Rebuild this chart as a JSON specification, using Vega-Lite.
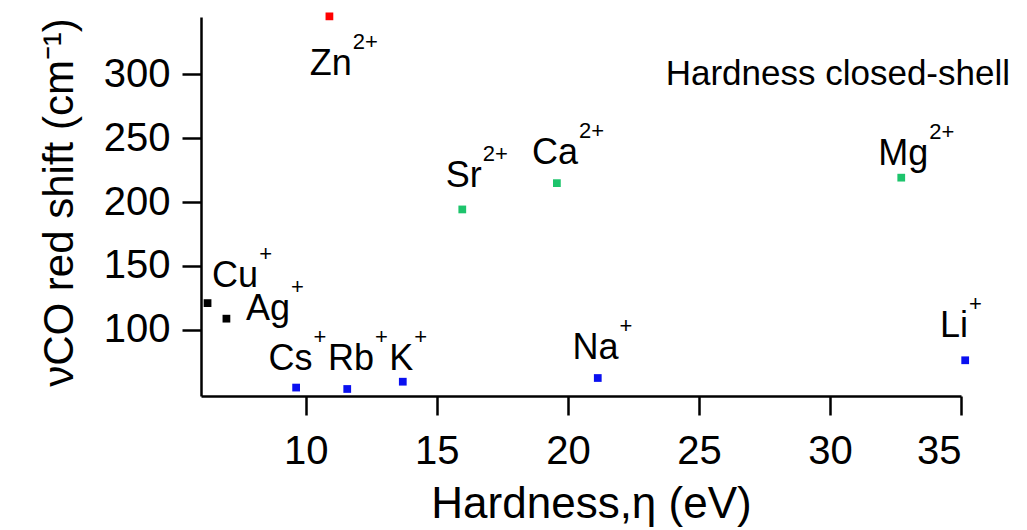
{
  "$schema": "https://vega.github.io/schema/vega-lite/v6.json",
  "width": 760,
  "height": 379,
  "autosize": {"type": "none"},
  "padding": {"left": 201, "top": 17, "right": 66, "bottom": 134},
  "background": "white",
  "config": {
    "view": {"stroke": null},
    "font": "Liberation Sans",
    "axis": {
      "grid": false,
      "domainColor": "black",
      "domainWidth": 2.5,
      "tickColor": "black",
      "tickWidth": 2.5,
      "tickSize": 19,
      "labelFont": "Liberation Sans",
      "labelFontSize": 40,
      "labelColor": "black",
      "titleFont": "Liberation Sans",
      "titleFontWeight": "normal",
      "titleColor": "black"
    },
    "axisX": {"labelPadding": 16, "titleFontSize": 44, "titleX": 390, "titleY": 121, "titleBaseline": "alphabetic", "titleAlign": "center"},
    "axisY": {"labelPadding": 12, "titleFontSize": 42, "titleX": -129, "titleY": 185, "titleAngle": 270, "titleBaseline": "alphabetic", "titleAlign": "center"}
  },
  "data": {
    "values": [
      {"ion": "Zn", "charge": "2+", "group": "Zn", "hardness": 10.9, "shift": 345.5, "lx": 11.75, "ly": 299.2},
      {"ion": "Sr", "charge": "2+", "group": "alkaline-earth", "hardness": 15.97, "shift": 194.2, "lx": 16.71, "ly": 211.7},
      {"ion": "Ca", "charge": "2+", "group": "alkaline-earth", "hardness": 19.58, "shift": 214.8, "lx": 20.39, "ly": 230.0},
      {"ion": "Mg", "charge": "2+", "group": "alkaline-earth", "hardness": 32.72, "shift": 219.1, "lx": 33.75, "ly": 228.7},
      {"ion": "Cu", "charge": "+", "group": "coinage", "hardness": 6.25, "shift": 120.8, "lx": 8.18, "ly": 133.1},
      {"ion": "Ag", "charge": "+", "group": "coinage", "hardness": 6.97, "shift": 108.6, "lx": 9.4, "ly": 107.3},
      {"ion": "Cs", "charge": "+", "group": "alkali", "hardness": 9.63, "shift": 54.6, "lx": 10.25, "ly": 68.1},
      {"ion": "Rb", "charge": "+", "group": "alkali", "hardness": 11.58, "shift": 53.5, "lx": 12.6, "ly": 68.1},
      {"ion": "K", "charge": "+", "group": "alkali", "hardness": 13.7, "shift": 59.2, "lx": 14.1, "ly": 68.1},
      {"ion": "Na", "charge": "+", "group": "alkali", "hardness": 21.14, "shift": 62.1, "lx": 21.93, "ly": 76.7},
      {"ion": "Li", "charge": "+", "group": "alkali", "hardness": 35.16, "shift": 76.0, "lx": 35.27, "ly": 94.2}
    ]
  },
  "layer": [
    {
      "mark": {"type": "point", "shape": "square", "filled": true, "opacity": 1, "size": 60, "clip": false},
      "encoding": {
        "x": {"field": "hardness", "type": "quantitative", "scale": {"domain": [6, 35], "nice": false, "zero": false}, "axis": {"values": [10, 15, 20, 25, 30, 35]}, "title": "Hardness,η (eV)"},
        "y": {"field": "shift", "type": "quantitative", "scale": {"domain": [48, 345], "nice": false, "zero": false}, "axis": {"values": [100, 150, 200, 250, 300]}, "title": "νCO red shift (cm⁻¹)"},
        "color": {"field": "group", "type": "nominal", "scale": {"domain": ["Zn", "alkaline-earth", "coinage", "alkali"], "range": ["#ff0000", "#1dc46c", "#000000", "#0a10f0"]}, "legend": null}
      }
    },
    {
      "mark": {"type": "text", "align": "right", "baseline": "alphabetic", "fontSize": 36, "color": "black", "clip": false},
      "encoding": {
        "x": {"field": "lx", "type": "quantitative", "title": "Hardness,η (eV)"},
        "y": {"field": "ly", "type": "quantitative", "title": "νCO red shift (cm⁻¹)"},
        "text": {"field": "ion"}
      }
    },
    {
      "mark": {"type": "text", "align": "left", "baseline": "alphabetic", "fontSize": 22, "dx": 1, "dy": -26, "color": "black", "clip": false},
      "encoding": {
        "x": {"field": "lx", "type": "quantitative", "title": "Hardness,η (eV)"},
        "y": {"field": "ly", "type": "quantitative", "title": "νCO red shift (cm⁻¹)"},
        "text": {"field": "charge"}
      }
    },
    {
      "data": {"values": [{"note": "Hardness closed-shell", "nx": 30.3, "ny": 291.4}]},
      "mark": {"type": "text", "align": "center", "baseline": "alphabetic", "fontSize": 35, "color": "black", "clip": false},
      "encoding": {
        "x": {"field": "nx", "type": "quantitative", "title": "Hardness,η (eV)"},
        "y": {"field": "ny", "type": "quantitative", "title": "νCO red shift (cm⁻¹)"},
        "text": {"field": "note"}
      }
    }
  ]
}
